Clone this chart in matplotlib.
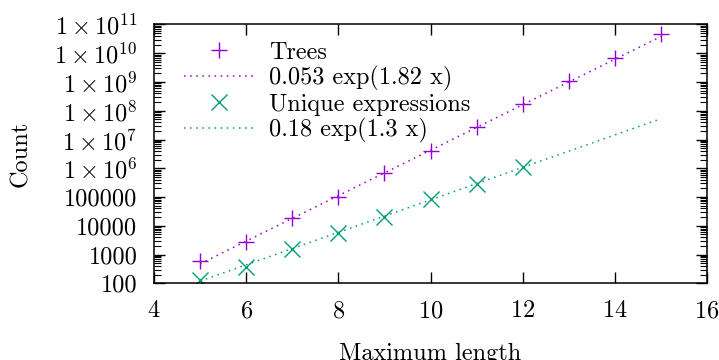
import numpy as np
import matplotlib
matplotlib.use("Agg")
import matplotlib.pyplot as plt
from matplotlib.ticker import FixedLocator, LogLocator, NullFormatter

plt.rcParams['font.family'] = 'cmr10'
plt.rcParams['mathtext.fontset'] = 'cm'
plt.rcParams['axes.formatter.use_mathtext'] = True

# data
lengths_trees = [5, 6, 7, 8, 9, 10, 11, 12, 13, 14, 15]
trees = [610, 2800, 19000, 102000, 690000, 4.0e6, 2.7e7, 1.7e8, 1.05e9, 7.0e9, 4.8e10]
lengths_unique = [5, 6, 7, 8, 9, 10, 11, 12]
unique = [130, 380, 1550, 5500, 20500, 83000, 2.8e5, 1.07e6]

# fit parameters as printed in the legend
trees_a, trees_b = 0.053, 1.82
unique_a, unique_b = 0.18, 1.3

ytick_vals = [1e2, 1e3, 1e4, 1e5, 1e6, 1e7, 1e8, 1e9, 1e10, 1e11]
ytick_labels = ['100', '1000', '10000', '100000',
                r'$1\times10^{6}$', r'$1\times10^{7}$', r'$1\times10^{8}$',
                r'$1\times10^{9}$', r'$1\times10^{10}$', r'$1\times10^{11}$']

purple = '#9400d3'
green = '#009e73'
fs = 17.5

fig = plt.figure(figsize=(7.19, 3.6), dpi=100)
ax = fig.add_axes([0.2142, 0.213, 0.7691, 0.719])

xf = np.linspace(5, 15, 200)
ax.plot(lengths_trees, trees, linestyle='none', marker='+', ms=12, mew=1.0,
        color=purple, label='Trees')
ax.plot(xf, trees_a * np.exp(trees_b * xf), linestyle=(0, (1, 3)), lw=1.1,
        color=purple, label='0.053 exp(1.82 x)')
ax.plot(lengths_unique, unique, linestyle='none', marker='x', ms=11, mew=1.0,
        color=green, label='Unique expressions')
ax.plot(xf, unique_a * np.exp(unique_b * xf), linestyle=(0, (1, 3)), lw=1.1,
        color=green, label='0.18 exp(1.3 x)')

ax.set_yscale('log')
ax.set_xlim(4, 16)
ax.set_ylim(1e2, 1e11)
ax.set_xticks([4, 6, 8, 10, 12, 14, 16])
ax.yaxis.set_major_locator(FixedLocator(ytick_vals))
ax.set_yticklabels(ytick_labels)
ax.yaxis.set_minor_locator(LogLocator(base=10, subs=np.arange(2, 10), numticks=20))
ax.yaxis.set_minor_formatter(NullFormatter())

ax.tick_params(which='major', direction='in', length=8, width=1,
               top=True, right=True, labelsize=fs, pad=12)
ax.tick_params(which='minor', direction='in', length=5, width=0.8,
               left=True, right=True)
for s in ax.spines.values():
    s.set_linewidth(1.1)

ax.set_xlabel('Maximum length', fontsize=fs, labelpad=15)
ax.set_ylabel('Count', fontsize=fs, labelpad=16)

ax.legend(loc='upper left', bbox_to_anchor=(0.024, 1.0), frameon=False,
          fontsize=fs, handlelength=2.85, handletextpad=0.65,
          labelspacing=0.1, borderaxespad=0.3, borderpad=0.4)

fig.savefig('out.png', dpi=100)
